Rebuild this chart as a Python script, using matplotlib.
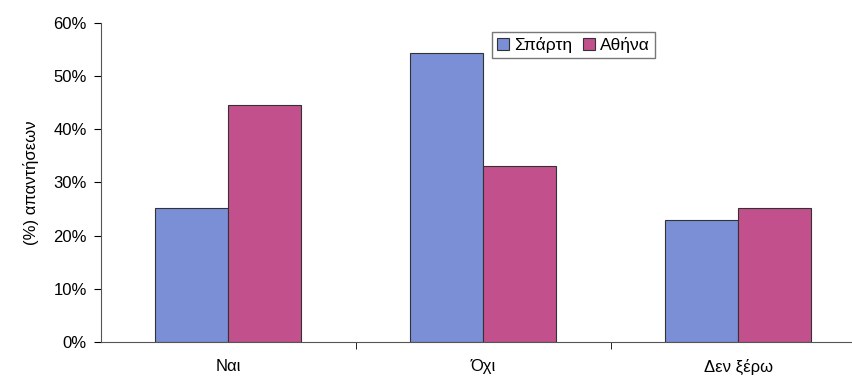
import numpy as np
import matplotlib.pyplot as plt

# data
categories = ['Ναι', 'Όχι', 'Δεν ξέρω']
sparti = [25.2, 54.3, 22.9]
athina = [44.6, 33.1, 25.2]
yticks = [0, 10, 20, 30, 40, 50, 60]

plt.rcParams['font.family'] = ['Liberation Sans', 'DejaVu Sans']

fig = plt.figure(figsize=(8.52, 3.81), dpi=100)
ax = fig.add_axes([0.118, 0.102, 0.898, 0.838])

x = np.arange(len(categories))
w = 0.286
ax.bar(x - w / 2, sparti, w, color='#7b8fd6', edgecolor='#333333', linewidth=0.8, label='Σπάρτη')
ax.bar(x + w / 2, athina, w, color='#c2508c', edgecolor='#333333', linewidth=0.8, label='Αθήνα')

ax.set_xlim(-0.5, 2.5)
ax.set_ylim(0, 60)
ax.set_yticks(yticks)
ax.set_yticklabels([f'{v}%' for v in yticks], fontsize=12)
ax.set_xticks(x)
ax.set_xticklabels(categories, fontsize=12)
ax.tick_params(axis='x', length=0, pad=12)
ax.set_xticks([0.5, 1.5], minor=True)
ax.tick_params(axis='x', which='minor', length=5, direction='out')
ax.tick_params(axis='y', length=5, direction='out', pad=5)
ax.set_ylabel('(%) απαντήσεων', fontsize=12, labelpad=10)

for s in ['top', 'right']:
    ax.spines[s].set_visible(False)
ax.spines['left'].set_color('#555555')
ax.spines['bottom'].set_color('#555555')

leg = ax.legend(loc='upper left', bbox_to_anchor=(0.5, 1.0), ncol=2, fontsize=12.5,
                frameon=True, fancybox=False, edgecolor='#555555', handlelength=0.7,
                handleheight=0.7, handletextpad=0.3, columnspacing=0.6, borderpad=0.3)

fig.savefig('out.png', dpi=100)
